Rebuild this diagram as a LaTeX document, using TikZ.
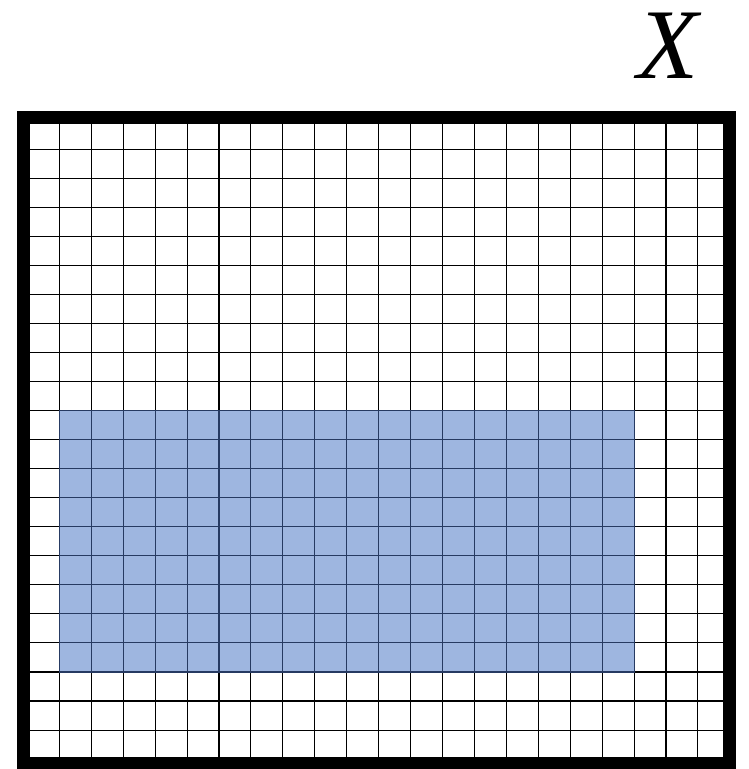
\documentclass[tikz,border=0pt]{standalone}
\usepackage{fontspec}
\newfontfamily\labelfont{Liberation Serif}
\definecolor{cellblue}{RGB}{158,182,224}
\definecolor{navyline}{RGB}{38,58,98}
\tikzset{gridline/.style={line width=1.1pt,black},
         bluegridline/.style={line width=1.1pt,navyline},
         frame/.style={line width=13pt,black}}
\begin{document}
\begin{tikzpicture}[x=1pt,y=-1pt]
\useasboundingbox (0,0) rectangle (749,769);
\def\gx{27.4}\def\dx{31.93}\def\gy{120}\def\dy{29.05}
% blue region
\fill[cellblue] ({\gx+1*\dx},{\gy+10*\dy}) rectangle ({\gx+19*\dx},{\gy+19*\dy});
% grid
\foreach \i in {1,...,21} \draw[gridline] ({\gx+\i*\dx},117) -- ({\gx+\i*\dx},763);
\foreach \j in {1,...,21} \draw[gridline] (23.5,{\gy+\j*\dy}) -- (729.5,{\gy+\j*\dy});
% grid inside the blue region
\begin{scope}
\clip ({\gx+1*\dx},{\gy+10*\dy}) rectangle ({\gx+19*\dx},{\gy+19*\dy});
\foreach \i in {1,...,21} \draw[bluegridline] ({\gx+\i*\dx},117) -- ({\gx+\i*\dx},763);
\foreach \j in {1,...,21} \draw[bluegridline] (23.5,{\gy+\j*\dy}) -- (729.5,{\gy+\j*\dy});
\end{scope}
\draw[line width=0.8pt,navyline] ({\gx+1*\dx},{\gy+10*\dy}) rectangle ({\gx+19*\dx},{\gy+19*\dy});
% frame
\draw[frame] (23.5,117) rectangle (729.5,763);
% label
\node[inner sep=0pt,anchor=base] (xlabel) at (668,78) {\fontsize{100}{100}\selectfont\labelfont\itshape X};
\end{tikzpicture}
\end{document}
